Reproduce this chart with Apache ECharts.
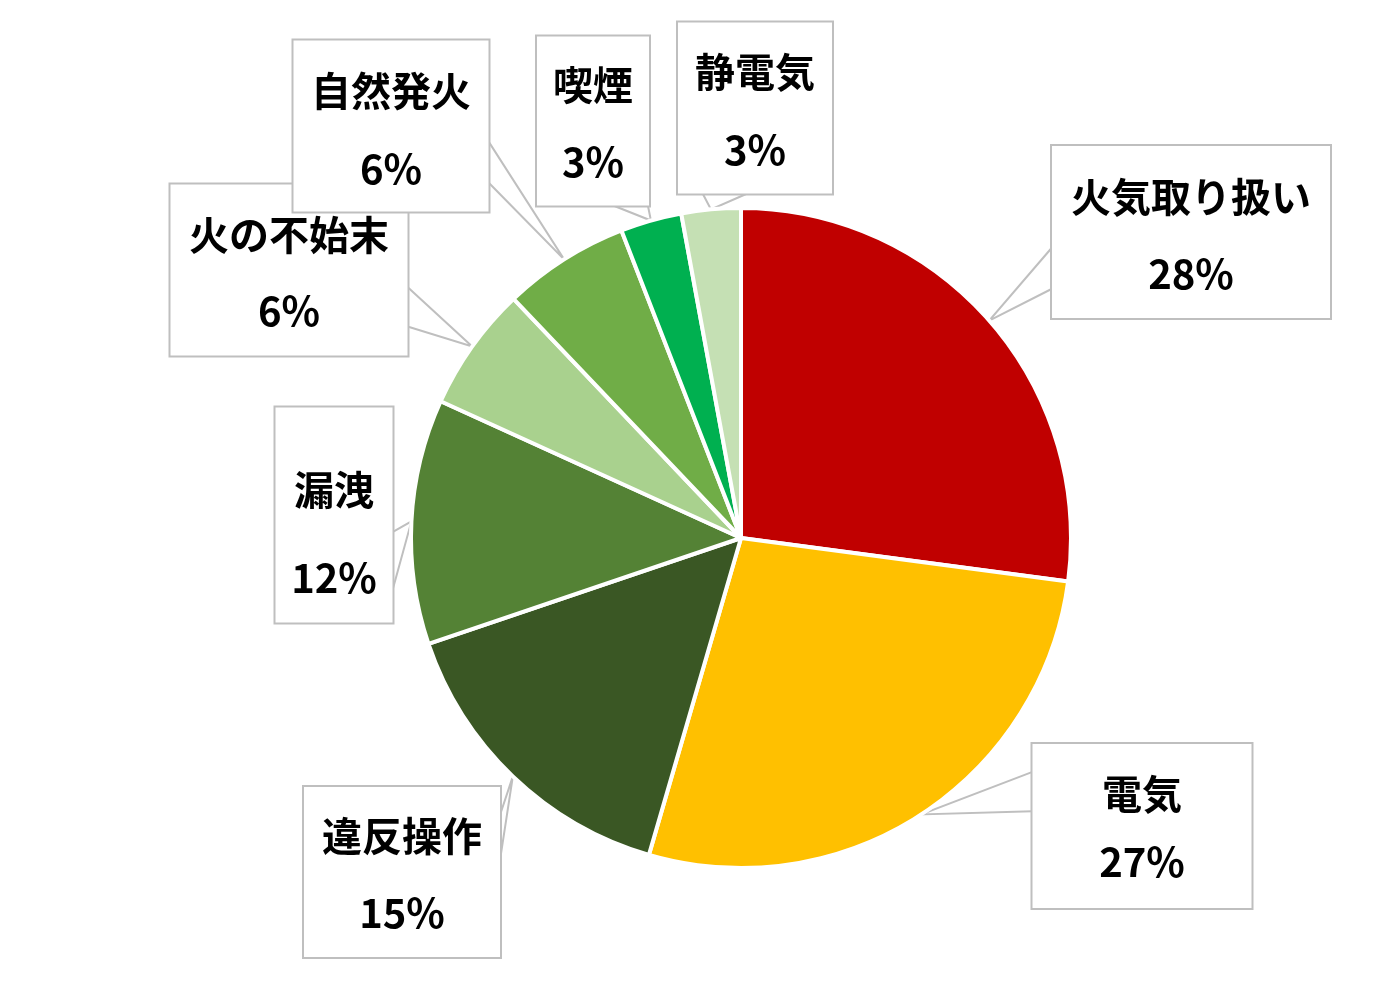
<!DOCTYPE html>
<html>
<head>
<meta charset="utf-8">
<script src="https://cdn.jsdelivr.net/npm/echarts@6/dist/echarts.min.js"></script>
<style>
html,body{margin:0;padding:0;background:#fff;}
#chart{width:1398px;height:986px;}
</style>
</head>
<body>
<div id="chart"></div>
<script>
// ---- data ----
const categories = ['火気取り扱い', '電気', '違反操作', '漏洩', '火の不始末', '自然発火', '喫煙', '静電気'];
// slice shares as drawn in the picture
const values = [27.1, 27.4, 15.3, 12.0, 6.1, 6.2, 3.0, 2.9];
// percentages printed in the callouts
const percentLabels = [28, 27, 15, 12, 6, 6, 3, 3];

// ---- styles ----
const colors = ['#C00000', '#FFC000', '#3A5724', '#548235', '#A9D18E', '#70AD47', '#00B050', '#C5E0B4'];

// ---- layout ----
const pieCenter = [741, 538];
const pieRadius = 330;
// callout box: center x, center y
const boxCenters = [[1191, 232], [1142, 826], [402, 872], [334, 515], [289, 270], [391, 126], [593, 121], [755, 108]];
// callout box: width, height, line height, padding top, padding bottom
const boxSizes = [[278, 172, 77, 12, 6], [219, 164, 68, 16, 12], [196, 170, 77, 10, 6], [117, 215, 88, 38, 1],
                  [237, 171, 76, 12, 7], [195, 171, 78, 11, 4], [112, 169, 77, 10, 5], [154, 171, 78, 10, 5]];
// callout pointer base: box side and start/end fraction along that side
const pointerBase = [['left', 0.59, 0.83], ['left', 0.17, 0.41], ['right', 0.165, 0.43], ['right', 0.58, 0.85],
                     ['right', 0.6, 0.83], ['right', 0.59, 0.83], ['bottom', 0.68, 0.99], ['bottom', 0.16, 0.45]];

const total = values.reduce((a, b) => a + b, 0);
const midAngles = [];
(function () {
  let cum = 0;
  for (let i = 0; i < values.length; i++) {
    midAngles.push(2 * Math.PI * (cum + values[i] / 2) / total);
    cum += values[i];
  }
})();

function wedgePoints(i) {
  const th = midAngles[i];
  const tip = [pieCenter[0] + pieRadius * Math.sin(th), pieCenter[1] - pieRadius * Math.cos(th)];
  const [cx, cy] = boxCenters[i];
  const [w, h] = boxSizes[i];
  const left = cx - w / 2, top = cy - h / 2;
  const [side, f0, f1] = pointerBase[i];
  let A, B;
  if (side === 'left' || side === 'right') {
    const x = side === 'left' ? left : left + w;
    A = [x, top + f0 * h]; B = [x, top + f1 * h];
  } else {
    const y = side === 'top' ? top : top + h;
    A = [left + f0 * w, y]; B = [left + f1 * w, y];
  }
  return [A, tip, B];
}

const chart = echarts.init(document.getElementById('chart'));

const data = categories.map((name, i) => {
  const [w, h, lh, pt, pb] = boxSizes[i];
  return {
    name: name,
    value: values[i],
    itemStyle: { color: colors[i] },
    label: { width: w, lineHeight: lh, padding: [pt, 0, pb, 0] }
  };
});

chart.setOption({
  backgroundColor: '#ffffff',
  animation: false,
  series: [{
    type: 'pie',
    center: pieCenter,
    radius: [0, pieRadius],
    startAngle: 90,
    clockwise: true,
    avoidLabelOverlap: false,
    data: data,
    itemStyle: { borderColor: '#ffffff', borderWidth: 4 },
    label: {
      show: true,
      position: 'outside',
      formatter: function (p) { return p.name + '\n' + percentLabels[p.dataIndex] + '%'; },
      fontFamily: '"Noto Sans CJK JP", "Noto Sans", sans-serif',
      fontSize: 40,
      fontWeight: 'bold',
      color: '#000000',
      align: 'center',
      backgroundColor: '#ffffff',
      borderColor: '#BFBFBF',
      borderWidth: 2
    },
    labelLine: {
      show: true,
      length: 20,
      length2: 10,
      smooth: false,
      lineStyle: { color: '#BFBFBF', width: 2 }
    },
    labelLayout: function (params) {
      const i = params.dataIndex;
      const c = boxCenters[i];
      const h = boxSizes[i][1];
      return { x: c[0], y: c[1] - h / 2, align: 'center', verticalAlign: 'top', labelLinePoints: wedgePoints(i) };
    }
  }]
});
</script>
</body>
</html>
